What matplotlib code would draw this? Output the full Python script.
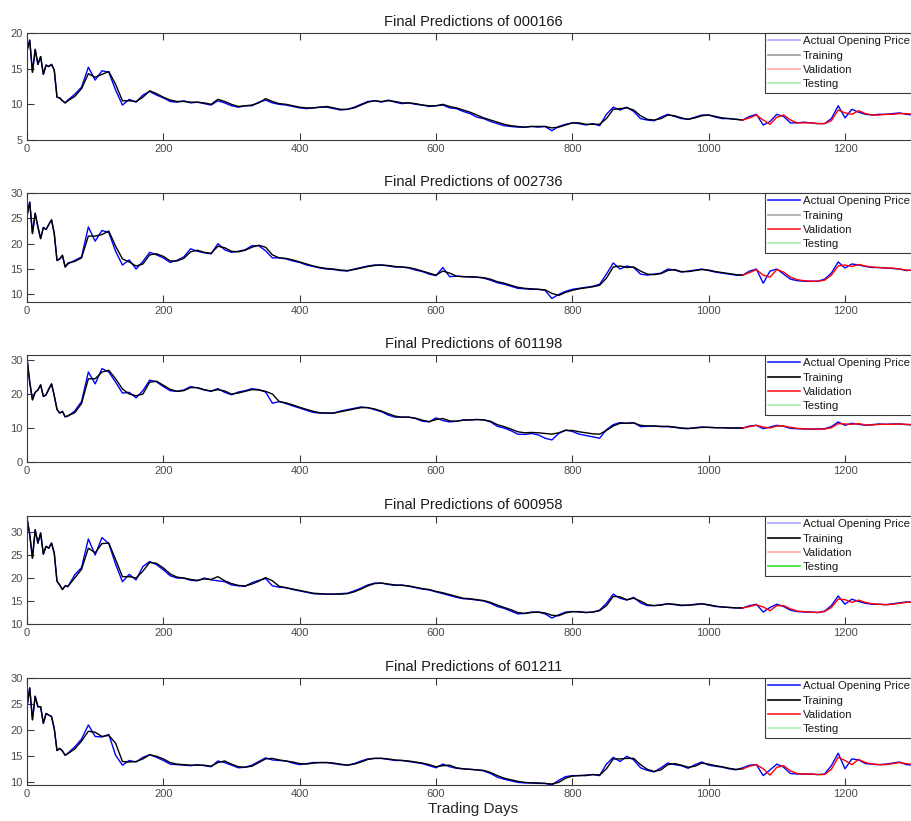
import matplotlib
matplotlib.use("Agg")
import matplotlib.pyplot as plt
from matplotlib.lines import Line2D

plt.rcParams['font.family'] = ['Liberation Sans', 'DejaVu Sans']

# sampling grid (trading day index) for all series
days = list(range(0, 60, 4)) + list(range(60, 1301, 10))
split_day = 1050  # training -> validation

stocks = ['000166', '002736', '601198', '600958', '601211']

# ---- 000166 ----
act_000166 = [17.5, 19.0, 14.5, 17.7, 15.6, 16.7, 14.2, 15.5, 15.3, 15.6, 14.8, 11.0, 10.9, 10.5, 10.2,
              10.6, 11.4, 12.4, 15.2, 13.4, 14.7, 14.5, 12.0, 9.9, 10.7,
              10.3, 11.3, 11.8, 11.3, 10.9, 10.4, 10.3, 10.5, 10.2, 10.3,
              10.1, 9.9, 10.5, 10.2, 9.8, 9.6, 9.8, 9.8, 10.3, 10.6,
              10.2, 10.0, 9.9, 9.7, 9.5, 9.4, 9.5, 9.6, 9.6, 9.4,
              9.2, 9.3, 9.6, 10.0, 10.4, 10.5, 10.3, 10.6, 10.3, 10.1,
              10.2, 10.0, 9.9, 9.7, 9.8, 9.9, 9.5, 9.4, 9.0, 8.7,
              8.2, 8.0, 7.6, 7.3, 7.0, 6.9, 6.8, 6.8, 6.9, 6.8,
              6.9, 6.3, 6.9, 7.2, 7.4, 7.3, 7.1, 7.3, 7.0, 8.6,
              9.6, 9.2, 9.6, 9.0, 8.0, 7.8, 7.7, 8.2, 8.6, 8.3,
              8.0, 7.9, 8.2, 8.5, 8.5, 8.2, 8.0, 8.0, 7.9, 7.8,
              8.3, 8.6, 7.1, 7.6, 8.6, 8.3, 7.4, 7.4, 7.5, 7.4,
              7.3, 7.3, 8.0, 9.8, 8.1, 9.3, 8.9, 8.6, 8.5, 8.6,
              8.6, 8.7, 8.8, 8.6, 8.5]
pred_000166 = [17.5, 19.0, 14.5, 17.7, 15.6, 16.7, 14.2, 15.5, 15.3, 15.6, 14.8, 11.0, 10.9, 10.5, 10.2,
               10.5, 11.1, 12.2, 14.3, 13.8, 14.2, 14.6, 12.8, 10.5, 10.5,
               10.4, 11.0, 11.9, 11.5, 11.0, 10.6, 10.4, 10.4, 10.3, 10.3,
               10.2, 10.0, 10.7, 10.4, 10.0, 9.7, 9.8, 9.9, 10.2, 10.8,
               10.4, 10.1, 10.0, 9.8, 9.6, 9.5, 9.5, 9.6, 9.7, 9.5,
               9.3, 9.3, 9.5, 9.9, 10.3, 10.5, 10.4, 10.5, 10.4, 10.2,
               10.2, 10.1, 9.9, 9.8, 9.8, 10.0, 9.7, 9.5, 9.2, 8.9,
               8.5, 8.1, 7.8, 7.5, 7.2, 7.0, 6.9, 6.8, 6.9, 6.9,
               6.9, 6.7, 6.8, 7.1, 7.4, 7.4, 7.2, 7.2, 7.2, 8.0,
               9.3, 9.4, 9.5, 9.2, 8.4, 7.9, 7.8, 8.0, 8.5, 8.4,
               8.1, 7.9, 8.1, 8.4, 8.5, 8.3, 8.1, 8.0, 7.9, 7.8,
               8.1, 8.5, 7.8, 7.2, 8.2, 8.5, 7.8, 7.4, 7.4, 7.4,
               7.3, 7.3, 7.7, 9.2, 8.8, 8.6, 9.1, 8.7, 8.5, 8.5,
               8.6, 8.6, 8.7, 8.7, 8.6]

# ---- 002736 ----
act_002736 = [25.5, 28.2, 22.0, 26.0, 23.3, 21.0, 23.2, 22.8, 23.8, 24.7, 22.0, 16.7, 17.0, 17.7, 15.4,
              16.0, 16.7, 17.4, 23.3, 20.5, 22.6, 22.2, 18.5, 15.8, 16.8,
              15.0, 16.5, 18.3, 17.8, 17.2, 16.3, 16.7, 17.4, 19.0, 18.5,
              18.2, 18.0, 20.0, 18.8, 18.3, 18.5, 18.8, 19.6, 19.6, 18.6,
              17.2, 17.2, 17.0, 16.6, 16.3, 15.8, 15.5, 15.2, 15.0, 14.9,
              14.7, 14.6, 15.0, 15.3, 15.6, 15.8, 15.8, 15.6, 15.4, 15.4,
              15.2, 14.8, 14.5, 14.0, 13.7, 15.3, 13.5, 13.6, 13.5, 13.4,
              13.4, 13.2, 12.8, 12.3, 12.0, 11.6, 11.2, 11.1, 11.0, 11.0,
              10.8, 9.2, 10.0, 10.6, 11.0, 11.2, 11.4, 11.6, 12.0, 14.0,
              16.2, 15.0, 15.6, 15.3, 14.0, 13.8, 14.0, 14.2, 15.0, 14.8,
              14.4, 14.6, 14.8, 15.0, 14.7, 14.4, 14.2, 14.0, 13.8, 13.8,
              14.6, 15.0, 12.2, 14.6, 15.0, 14.0, 13.0, 12.7, 12.6, 12.6,
              12.6, 13.0, 14.2, 16.4, 15.2, 16.0, 15.8, 15.5, 15.3, 15.3,
              15.2, 15.1, 15.0, 14.7, 14.8]
pred_002736 = [25.5, 28.2, 22.0, 26.0, 23.3, 21.0, 23.2, 22.8, 23.8, 24.7, 22.0, 16.7, 17.0, 17.7, 15.4,
               16.2, 16.5, 17.2, 21.5, 21.5, 21.8, 22.5, 19.5, 17.0, 16.4,
               15.6, 16.0, 17.8, 18.0, 17.5, 16.6, 16.6, 17.1, 18.4, 18.7,
               18.3, 18.1, 19.5, 19.2, 18.5, 18.4, 18.7, 19.3, 19.7, 19.3,
               17.8, 17.2, 17.1, 16.8, 16.4, 16.0, 15.6, 15.3, 15.1, 15.0,
               14.8, 14.7, 14.9, 15.2, 15.5, 15.7, 15.8, 15.7, 15.5, 15.4,
               15.3, 15.0, 14.6, 14.2, 13.8, 14.6, 14.2, 13.6, 13.5, 13.5,
               13.4, 13.3, 13.0, 12.5, 12.2, 11.8, 11.4, 11.2, 11.1, 11.0,
               10.9, 10.2, 9.8, 10.4, 10.8, 11.1, 11.3, 11.5, 11.8, 13.2,
               15.4, 15.6, 15.3, 15.4, 14.6, 14.0, 13.9, 14.1, 14.7, 14.9,
               14.5, 14.5, 14.7, 14.9, 14.8, 14.5, 14.3, 14.1, 13.9, 13.8,
               14.3, 14.9, 13.8, 13.4, 14.9, 14.4, 13.4, 12.9, 12.7, 12.6,
               12.6, 12.8, 13.8, 15.6, 15.8, 15.5, 15.9, 15.6, 15.4, 15.3,
               15.2, 15.2, 15.0, 14.8, 14.7]

# ---- 601198 ----
act_601198 = [30.5, 23.5, 18.3, 20.5, 21.2, 22.7, 19.3, 19.8, 21.5, 23.0, 19.5, 15.5, 14.4, 14.9, 13.3,
              13.5, 15.0, 17.8, 26.5, 23.0, 27.5, 26.5, 23.5, 20.3, 20.5,
              18.9, 21.0, 24.1, 23.6, 22.2, 21.0, 20.8, 21.2, 22.2, 21.8,
              21.2, 20.8, 21.6, 20.5, 19.8, 20.6, 21.0, 21.6, 21.3, 20.6,
              17.3, 17.8, 17.2, 16.5, 15.9, 15.2, 14.6, 14.4, 14.4, 14.4,
              15.0, 15.4, 15.8, 16.2, 16.0, 15.4, 14.8, 13.8, 13.2, 13.2,
              13.2, 12.8, 12.0, 11.8, 13.0, 12.2, 11.8, 12.0, 12.4, 12.4,
              12.5, 12.4, 11.8, 10.5, 10.0, 9.2, 8.2, 8.1, 8.4, 8.0,
              7.0, 6.5, 8.4, 9.4, 9.0, 8.2, 7.8, 7.4, 7.0, 9.5,
              11.0, 11.6, 11.4, 11.6, 10.4, 10.5, 10.6, 10.4, 10.4, 10.2,
              9.9, 9.8, 10.1, 10.3, 10.2, 10.1, 10.1, 10.0, 10.0, 10.0,
              10.6, 10.8, 9.8, 10.3, 10.8, 10.5, 9.9, 9.8, 9.7, 9.7,
              9.7, 9.8, 10.4, 11.8, 10.8, 11.4, 11.1, 10.8, 11.0, 11.2,
              11.1, 11.2, 11.2, 11.0, 10.9]
pred_601198 = [30.5, 23.5, 18.3, 20.5, 21.2, 22.7, 19.3, 19.8, 21.5, 23.0, 19.5, 15.5, 14.4, 14.9, 13.3,
               13.6, 14.5, 17.2, 24.5, 24.5, 26.5, 27.0, 24.5, 21.5, 20.0,
               19.5, 20.0, 23.5, 23.8, 22.6, 21.4, 20.8, 21.0, 21.9, 21.9,
               21.3, 20.9, 21.3, 20.9, 20.0, 20.3, 20.8, 21.3, 21.2, 20.8,
               20.0, 17.8, 17.4, 16.8, 16.1, 15.5, 14.9, 14.5, 14.4, 14.4,
               14.8, 15.2, 15.6, 16.0, 16.0, 15.6, 15.0, 14.2, 13.5, 13.2,
               13.2, 12.9, 12.3, 11.9, 12.5, 12.8, 12.1, 12.0, 12.3, 12.4,
               12.5, 12.4, 12.0, 11.0, 10.4, 9.7, 8.9, 8.6, 8.7, 8.6,
               8.4, 8.2, 8.6, 9.3, 9.3, 8.9, 8.6, 8.3, 8.2, 9.3,
               10.6, 11.4, 11.4, 11.5, 10.8, 10.6, 10.6, 10.5, 10.5, 10.3,
               10.0, 9.9, 10.0, 10.2, 10.2, 10.1, 10.1, 10.0, 10.0, 10.0,
               10.4, 10.8, 10.3, 10.0, 10.6, 10.6, 10.2, 9.9, 9.8, 9.7,
               9.7, 9.7, 10.1, 11.3, 11.2, 11.1, 11.3, 10.9, 10.9, 11.1,
               11.1, 11.1, 11.2, 11.1, 11.0]

# ---- 600958 ----
act_600958 = [33.0, 29.5, 24.3, 30.5, 27.6, 29.8, 25.2, 26.9, 26.5, 27.6, 25.4, 19.3, 18.5, 17.5, 18.3,
              18.1, 20.7, 22.3, 28.5, 25.0, 28.8, 27.5, 23.0, 19.2, 20.8,
              19.6, 22.5, 23.6, 22.9, 21.8, 20.5, 20.0, 20.0, 19.5, 19.4,
              20.0, 19.6, 19.4, 19.2, 18.5, 18.3, 18.2, 19.0, 19.5, 19.9,
              18.3, 18.0, 17.9, 17.5, 17.2, 16.9, 16.6, 16.5, 16.5, 16.5,
              16.6, 16.7, 17.2, 17.8, 18.5, 18.9, 18.9, 18.6, 18.4, 18.5,
              18.2, 17.9, 17.6, 17.4, 17.0, 16.6, 16.2, 15.8, 15.5, 15.4,
              15.2, 15.0, 14.5, 13.8, 13.4, 12.8, 12.2, 12.3, 12.6, 12.6,
              12.2, 11.3, 12.0, 12.6, 12.7, 12.6, 12.5, 12.6, 13.0, 14.5,
              16.5, 15.6, 15.2, 15.8, 14.6, 14.0, 14.0, 14.2, 14.4, 14.2,
              14.0, 14.1, 14.3, 14.4, 14.1, 13.8, 13.7, 13.6, 13.5, 13.5,
              14.0, 14.3, 12.6, 13.6, 14.3, 13.8, 13.0, 12.7, 12.6, 12.6,
              12.5, 12.8, 14.0, 16.1, 14.3, 15.4, 14.9, 14.5, 14.3, 14.3,
              14.2, 14.4, 14.6, 14.8, 14.7]
pred_600958 = [33.0, 29.5, 24.3, 30.5, 27.6, 29.8, 25.2, 26.9, 26.5, 27.6, 25.4, 19.3, 18.5, 17.5, 18.3,
               18.2, 20.0, 21.9, 26.5, 25.5, 27.5, 27.6, 24.0, 20.3, 20.3,
               20.0, 21.5, 23.4, 23.2, 22.2, 20.9, 20.2, 20.0, 19.7, 19.5,
               19.8, 19.7, 20.3, 19.4, 18.8, 18.4, 18.3, 18.7, 19.3, 20.1,
               19.4, 18.2, 17.9, 17.6, 17.3, 17.0, 16.7, 16.6, 16.5, 16.5,
               16.5, 16.6, 17.0, 17.6, 18.3, 18.8, 18.9, 18.7, 18.5, 18.4,
               18.3, 18.0, 17.7, 17.5, 17.1, 16.8, 16.4, 16.0, 15.6, 15.5,
               15.3, 15.1, 14.7, 14.1, 13.6, 13.1, 12.5, 12.3, 12.5, 12.6,
               12.4, 11.9, 11.8, 12.4, 12.7, 12.7, 12.5, 12.6, 12.9, 14.0,
               16.0, 15.9, 15.3, 15.6, 15.0, 14.2, 14.0, 14.1, 14.4, 14.3,
               14.1, 14.1, 14.2, 14.4, 14.2, 13.9, 13.7, 13.6, 13.5, 13.5,
               13.8, 14.2, 13.7, 12.9, 14.0, 14.0, 13.3, 12.8, 12.7, 12.6,
               12.5, 12.7, 13.6, 15.4, 15.3, 14.7, 15.2, 14.7, 14.4, 14.3,
               14.2, 14.3, 14.5, 14.7, 14.8]

# ---- 601211 ----
act_601211 = [24.5, 28.1, 22.0, 26.5, 24.5, 24.5, 21.3, 23.2, 22.9, 22.6, 20.3, 16.1, 16.5, 16.0, 15.2,
              15.6, 16.8, 18.3, 21.0, 18.8, 18.7, 19.2, 15.2, 13.3, 14.2,
              13.9, 14.8, 15.3, 14.8, 14.2, 13.5, 13.4, 13.3, 13.2, 13.4,
              13.2, 13.0, 14.1, 13.8, 13.3, 12.8, 12.9, 13.3, 14.0, 14.7,
              14.3, 14.2, 14.1, 13.7, 13.4, 13.6, 13.8, 13.8, 13.8, 13.6,
              13.4, 13.3, 13.6, 14.1, 14.5, 14.6, 14.6, 14.4, 14.2, 14.2,
              14.0, 13.8, 13.6, 13.2, 12.8, 13.5, 13.0, 12.7, 12.6, 12.5,
              12.4, 12.2, 11.7, 11.0, 10.6, 10.3, 10.0, 9.9, 9.9, 9.8,
              9.8, 9.5, 10.4, 11.1, 11.3, 11.3, 11.4, 11.5, 11.3, 13.5,
              14.8, 14.0, 15.0, 14.3, 12.8, 12.3, 12.0, 12.8, 13.7, 13.4,
              13.2, 12.7, 13.4, 13.9, 13.3, 13.1, 12.9, 12.6, 12.4, 12.8,
              13.3, 13.4, 11.3, 12.4, 13.5, 12.9, 11.7, 11.6, 11.6, 11.6,
              11.5, 11.6, 13.2, 15.6, 12.6, 14.5, 14.3, 13.6, 13.5, 13.4,
              13.5, 13.7, 13.9, 13.4, 13.3]
pred_601211 = [24.5, 28.1, 22.0, 26.5, 24.5, 24.5, 21.3, 23.2, 22.9, 22.6, 20.3, 16.1, 16.5, 16.0, 15.2,
               15.5, 16.4, 17.9, 19.8, 19.6, 18.8, 19.0, 17.5, 14.0, 13.9,
               14.0, 14.5, 15.3, 15.0, 14.5, 13.8, 13.5, 13.4, 13.3, 13.3,
               13.3, 13.1, 13.8, 14.1, 13.5, 13.0, 12.9, 13.1, 13.8, 14.5,
               14.6, 14.3, 14.1, 13.9, 13.6, 13.5, 13.7, 13.8, 13.8, 13.7,
               13.5, 13.3, 13.5, 13.9, 14.4, 14.6, 14.6, 14.5, 14.3, 14.2,
               14.1, 13.9, 13.7, 13.4, 13.0, 13.2, 13.3, 12.8, 12.6, 12.5,
               12.4, 12.3, 11.9, 11.3, 10.8, 10.5, 10.2, 10.0, 9.9, 9.9,
               9.8, 9.7, 10.0, 10.8, 11.2, 11.3, 11.3, 11.5, 11.4, 12.6,
               14.5, 14.5, 14.6, 14.6, 13.4, 12.5, 12.1, 12.4, 13.4, 13.6,
               13.3, 12.9, 13.1, 13.7, 13.5, 13.2, 13.0, 12.7, 12.5, 12.6,
               13.1, 13.4, 12.6, 11.4, 12.9, 13.2, 12.2, 11.7, 11.6, 11.6,
               11.5, 11.5, 12.5, 14.8, 14.2, 13.4, 14.4, 13.8, 13.5, 13.4,
               13.4, 13.6, 13.8, 13.6, 13.4]

actual = [act_000166, act_002736, act_601198, act_600958, act_601211]
predicted = [pred_000166, pred_002736, pred_601198, pred_600958, pred_601211]

y_limits = [(5, 20), (8.5, 30), (0, 31.5), (10, 33.5), (9.5, 30)]
y_ticks = [[5, 10, 15, 20], [10, 15, 20, 25, 30], [0, 10, 20, 30],
           [10, 15, 20, 25, 30], [10, 15, 20, 25, 30]]
x_ticks = [0, 200, 400, 600, 800, 1000, 1200]

# legend swatch colours differ between panels in the original
legend_colors = [
    ['#a8a8ff', '#9a9a9a', '#ffa8a8', '#a8f0a8'],
    ['#2020ff', '#a8a8a8', '#ff2020', '#a8f0a8'],
    ['#2020ff', '#000000', '#ff2020', '#a8f0a8'],
    ['#a8a8ff', '#000000', '#ffa8a8', '#30e030'],
    ['#2020ff', '#000000', '#ff2020', '#a8f0a8'],
]
legend_labels = ['Actual Opening Price', 'Training', 'Validation', 'Testing']

for a, p in zip(actual, predicted):
    assert len(a) == len(days) and len(p) == len(days), (len(a), len(p), len(days))

W, H = 911, 821
fig = plt.figure(figsize=(W / 100, H / 100), dpi=100)

# axes boxes in pixels: (top, bottom); left/right shared
boxes = [(33, 140), (193, 302), (355, 462), (516, 624), (678, 785)]
left_px, right_px = 27, 920
k = days.index(split_day)

for i, (top, bot) in enumerate(boxes):
    ax = fig.add_axes([left_px / W, 1 - bot / H, (right_px - left_px) / W, (bot - top) / H])
    ax.plot(days, actual[i], color='#0000ff', lw=1.0)
    ax.plot(days[:k + 1], predicted[i][:k + 1], color='#000000', lw=1.0)
    ax.plot(days[k:], predicted[i][k:], color='#ff0000', lw=1.0)

    ax.set_xlim(0, 1310)
    ax.set_ylim(*y_limits[i])
    ax.set_xticks(x_ticks)
    ax.set_yticks(y_ticks[i])
    ax.tick_params(direction='in', length=5, width=0.8, top=True, right=True,
                   labelsize=8, labelcolor='#4a4a4a', color='#3a3a3a', pad=3)
    for s in ax.spines.values():
        s.set_color('#3a3a3a')
        s.set_linewidth(0.8)
    ax.set_title('Final Predictions of ' + stocks[i], fontsize=10.5, color='#1a1a1a', pad=5)

    # legend box runs off the right edge like the original, text kept inside
    handles = [Line2D([], [], color=c, lw=1.2) for c in legend_colors[i]]
    leg = ax.legend(handles, legend_labels, loc='upper left', mode='expand',
                    bbox_to_anchor=(0.826, 0.0, 0.2, 1.0),
                    borderaxespad=0, fontsize=8.2, frameon=True, fancybox=False,
                    framealpha=1, edgecolor='#3a3a3a', handlelength=2.8,
                    handletextpad=0.25, labelspacing=0.38, borderpad=0.3)
    leg.get_frame().set_linewidth(0.8)
    for t in leg.get_texts():
        t.set_color('#1a1a1a')

    if i == len(boxes) - 1:
        ax.set_xlabel('Trading Days', fontsize=11, color='#262626', labelpad=2)

fig.savefig('out.png', dpi=100)
